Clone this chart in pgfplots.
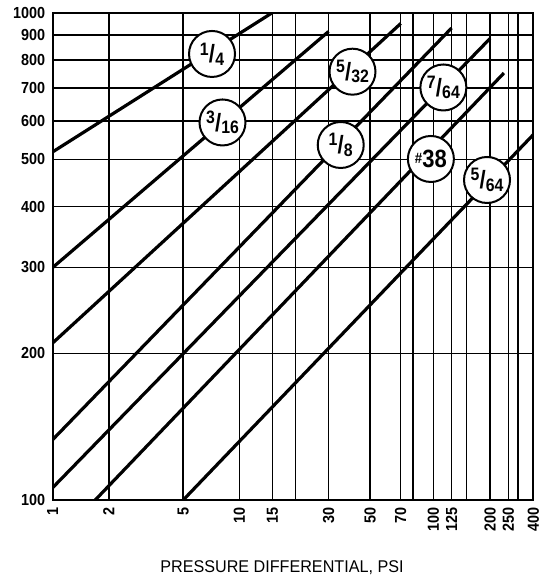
\documentclass[border=0pt]{standalone}
\usepackage{fontspec}
\setmainfont{Liberation Sans}
\newfontfamily\tickfont[FakeStretch=0.9]{Liberation Sans}
\newfontfamily\labfont[FakeStretch=0.95]{Liberation Sans}
\newfontfamily\circfont[FakeStretch=0.88]{Liberation Sans}
\usepackage{pgfplots}
\pgfplotsset{compat=1.18}
\newcommand\fr[2]{{\circfont\bfseries\fontsize{18}{18}\selectfont\raisebox{0.32em}{#1}\kern0.01em\raisebox{-0.12em}{\fontsize{25}{25}\selectfont/}\kern0.01em\raisebox{-0.25em}{#2}}}
\newcommand\num[1]{{\circfont\bfseries\raisebox{0.45em}{\fontsize{15}{15}\selectfont\#}\kern0.02em\fontsize{25}{25}\selectfont #1}}
\begin{document}
\begin{tikzpicture}
\path[use as bounding box] (0,0) rectangle (541pt,579pt);
\begin{axis}[
  at={(52.7pt,79pt)}, anchor=south west, scale only axis,
  width=480.6pt, height=487.3pt,
  x coord trafo/.code={%
    \pgfmathparse{ln(#1)*0.4342945}%
    \let\uu=\pgfmathresult
    \pgfmathparse{(\uu<=1.69897)*(52.7+186.76*\uu)+(\uu>1.69897)*(\uu<=2)*(370+210.28*(\uu-1.69897))+(\uu>2)*(\uu<=2.39794)*(433.3+188.47*(\uu-2))+(\uu>2.39794)*(508.3+122.48*(\uu-2.39794))}%
  },
  xmin=1, xmax=400,
  ymode=log, ymin=100, ymax=1000,
  xtick={1,2,5,10,15,20,30,50,70,80,100,125,150,200,250,300,400},
  xticklabels={1,2,5,10,15,,30,50,70,,100,125,,200,250,,400},
  ytick={100,200,300,400,500,600,700,800,900,1000},
  yticklabels={100,200,300,400,500,600,700,800,900,1000},
  minor ytick={}, minor xtick={},
  major tick length=0pt,
  grid=major,
  major grid style={black, line width=1.5pt},
  axis line style={line width=2pt},
  tick label style={font=\tickfont\bfseries\fontsize{16}{16}\selectfont},
  xticklabel style={rotate=90, anchor=east},
  xticklabel shift=4pt,
  yticklabel style={xshift=-4pt},
  xlabel={PRESSURE DIFFERENTIAL, PSI},
  xlabel style={font=\labfont\fontsize{17}{17}\selectfont, at={(axis description cs:0.477,0)}, anchor=base, yshift=-73pt},
]
% 1/4
\addplot[black, line width=3.2pt, no markers] coordinates {(1,518) (15,1000)};
% 3/16
\addplot[black, line width=3.2pt, no markers] coordinates {(1,300) (30,915)};
% 5/32
\addplot[black, line width=3.2pt, no markers] coordinates {(1,210) (70,950)};
% 1/8
\addplot[black, line width=3.2pt, no markers] coordinates {(1,133) (125,930)};
% 7/64
\addplot[black, line width=3.2pt, no markers] coordinates {(1,106) (200,885)};
% #38
\addplot[black, line width=3.2pt, no markers] coordinates {(1.69,100) (237,752)};
% 5/64
\addplot[black, line width=3.2pt, no markers] coordinates {(5,100) (400,562)};

\tikzset{lab/.style={circle, draw=black, line width=2pt, fill=white, minimum size=46pt, inner sep=0pt}}
\node[lab] at (rel axis cs:0.3315,0.9153) {\fr{1}{4}};
\node[lab] at (rel axis cs:0.3533,0.7747) {\fr{3}{16}};
\node[lab] at (rel axis cs:0.6238,0.8789) {\fr{5}{32}};
\node[lab] at (rel axis cs:0.8129,0.8465) {\fr{7}{64}};
\node[lab] at (rel axis cs:0.5993,0.7285) {\fr{1}{8}};
\node[lab] at (rel axis cs:0.7869,0.6998) {\num{38}};
\node[lab] at (rel axis cs:0.9037,0.6567) {\fr{5}{64}};
\end{axis}
\end{tikzpicture}
\end{document}
